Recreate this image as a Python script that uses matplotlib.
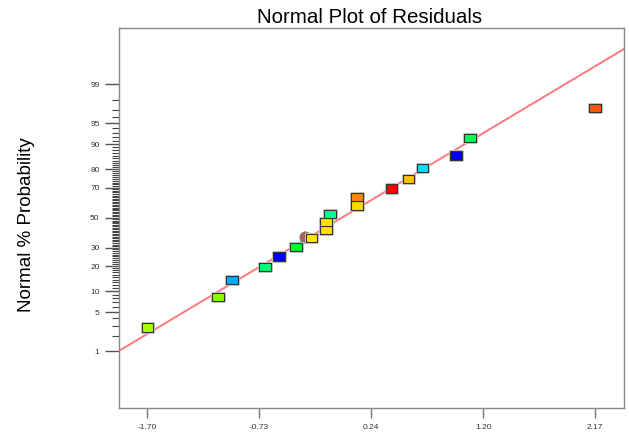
import numpy as np
import matplotlib
matplotlib.use("Agg")
import matplotlib.pyplot as plt
import matplotlib.patheffects as pe
from matplotlib.path import Path
from statistics import NormalDist

# residuals in rank order, one colour per run
residuals = [-1.70, -1.089, -0.968, -0.683, -0.562, -0.415, -0.279, -0.155, -0.155,
             -0.121, 0.112, 0.112, 0.409, 0.556, 0.677, 0.968, 1.089, 2.17]
point_colors = ["#aaff00", "#88ff00", "#00aaff", "#00ff77", "#0000ff", "#00ff33",
                "#ffe600", "#ffe000", "#ffe000", "#00ff99", "#ffdd00", "#ff8800",
                "#ff0000", "#ffc000", "#00ddff", "#0000ee", "#00ff55", "#ff5500"]

# highlighted run (drawn as a circle behind the squares)
flag_residual = -0.34
flag_rank = 7.1

# reference normal line: residual at 50% and spread
line_center = -0.02
line_sd = 0.83

prob_major = [1, 5, 10, 20, 30, 50, 70, 80, 90, 95, 99]
prob_minor = [p for p in range(2, 99) if p not in prob_major]

nd = NormalDist()
n = len(residuals)
z = [nd.inv_cdf((i + 0.5) / n) for i in range(n)]

fig = plt.figure(figsize=(6.29, 4.36), dpi=100)
ax = fig.add_axes([0.1892, 0.0649, 0.8029, 0.8716])

xmin, xmax = -1.945, 2.42
ax.set_xlim(xmin, xmax)
ax.set_ylim(-3.31, 3.31)

# fitted line across the whole axis
xl = np.array([xmin, xmax])
ax.plot(xl, (xl - line_center) / line_sd, color="#ff8080", lw=1.5, zorder=2)

# flagged point
ax.scatter([flag_residual], [nd.inv_cdf((flag_rank - 0.5) / n)], s=64,
           marker="o", facecolor="#b05a5a", edgecolor="#808080", lw=0.8, zorder=3)

# squares are a bit wider than tall
rect = Path([(-1, -0.72), (1, -0.72), (1, 0.72), (-1, 0.72), (-1, -0.72)],
            [Path.MOVETO, Path.LINETO, Path.LINETO, Path.LINETO, Path.CLOSEPOLY])
ax.scatter(residuals, z, s=68, marker=rect, c=point_colors, edgecolor="#333333",
           lw=0.8, zorder=4,
           path_effects=[pe.Stroke(linewidth=2.2, foreground="#c8c8c8"), pe.Normal()])

# probability scale on the y axis
ax.set_yticks([nd.inv_cdf(p / 100) for p in prob_major])
ax.set_yticklabels([str(p) for p in prob_major])
ax.set_yticks([nd.inv_cdf(p / 100) for p in prob_minor], minor=True)

x_ticks = np.linspace(-1.70, 2.17, 5)
ax.set_xticks(x_ticks)
ax.set_xticklabels([f"{v:.2f}" for v in x_ticks])

for s in ax.spines.values():
    s.set_color("#888888")
    s.set_linewidth(1.0)

ax.tick_params(axis="y", which="major", length=10, width=1.0, color="#555555",
               pad=4, labelsize=6, labelcolor="#333333")
ax.tick_params(axis="y", which="minor", length=5, width=0.8, color="#444444")
ax.tick_params(axis="x", which="major", length=7.5, width=1.0, color="#777777",
               pad=4, labelsize=6, labelcolor="#333333")
for lab in ax.get_xticklabels() + ax.get_yticklabels():
    lab.set_family(["Liberation Sans", "DejaVu Sans"])

fig.text(0.588, 0.960, "Normal Plot of Residuals", ha="center", va="center",
         fontsize=14.8, family=["Liberation Sans", "DejaVu Sans"])
fig.text(0.042, 0.484, "Normal % Probability", rotation=90, ha="center", va="center",
         fontsize=13.5, family=["Liberation Sans", "DejaVu Sans"])

fig.savefig("out.png", dpi=100)
